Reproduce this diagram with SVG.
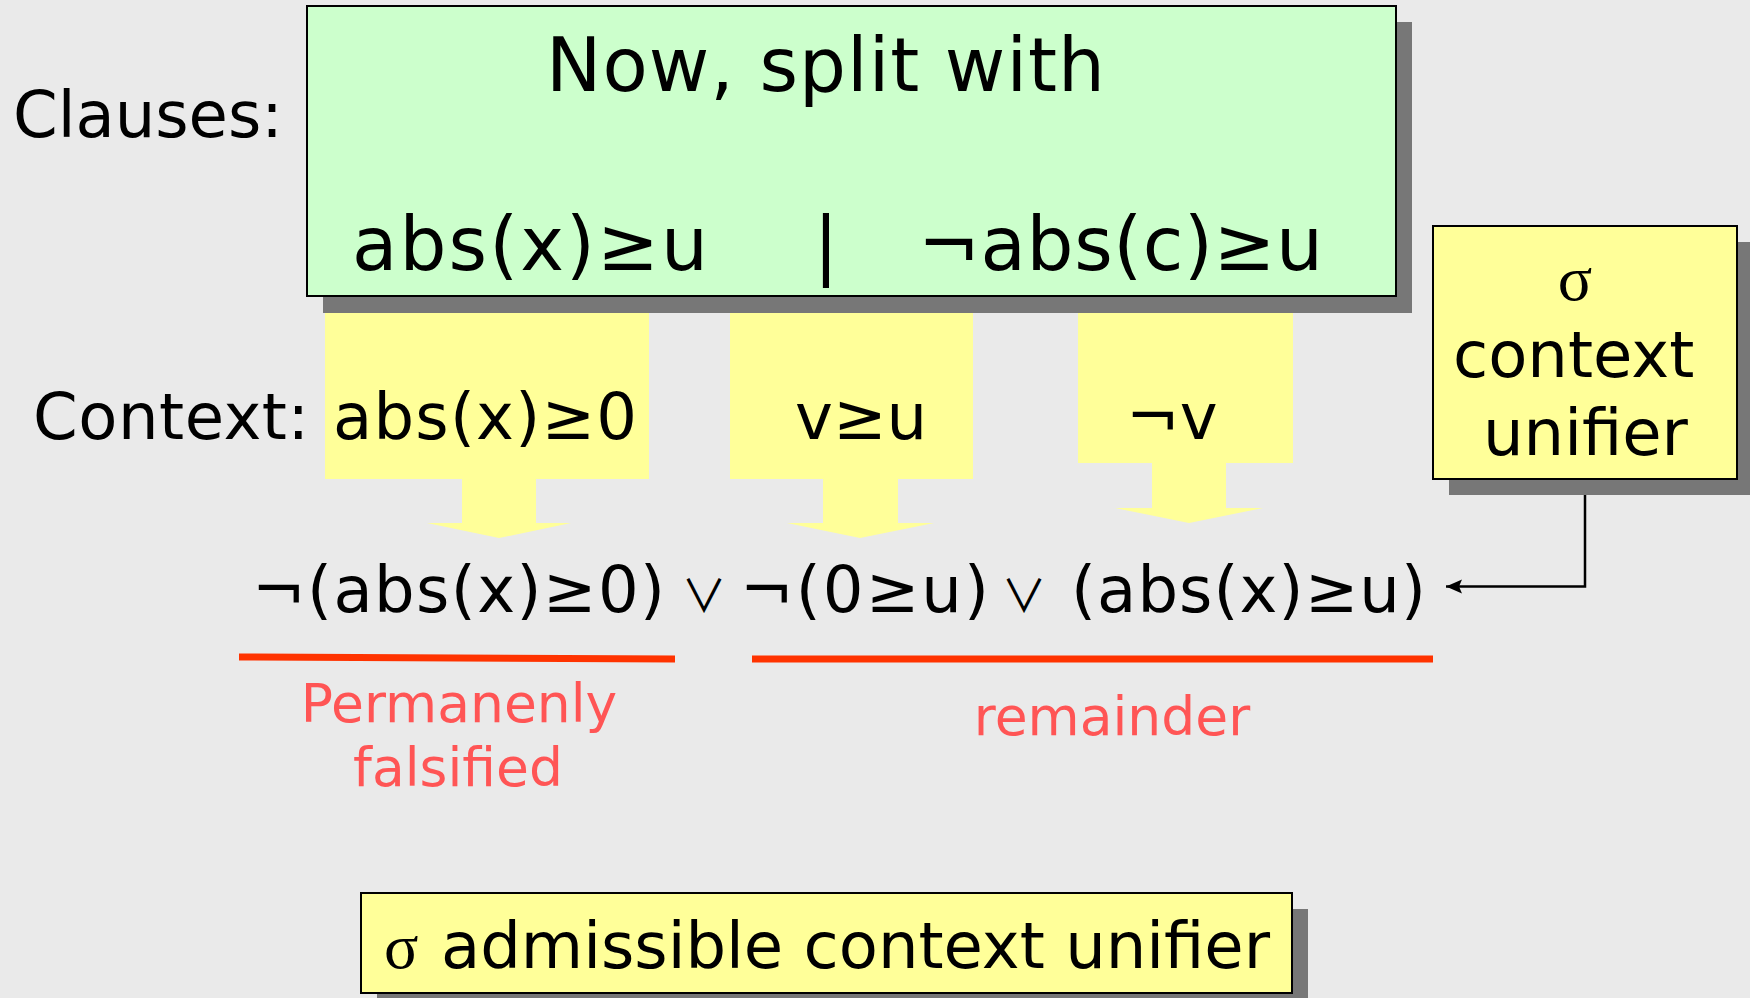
<svg xmlns="http://www.w3.org/2000/svg" width="1750" height="998" viewBox="0 0 1750 998">
  <defs>
    <style>
      .bg { fill: #eaeaea; }
      .shadow { fill: #777777; }
      .green { fill: #ccffcc; stroke: #000; stroke-width: 2; }
      .note { fill: #ffff99; stroke: #000; stroke-width: 2; }
      .ctx { fill: #ffff99; }
      .t { font-family: "DejaVu Sans", Verdana, sans-serif; fill: #000; }
      .big { font-size: 74px; }
      .mid { font-size: 64px; }
      .red { font-family: "DejaVu Sans", Verdana, sans-serif; font-size: 53.5px; fill: #ff5555; }
      .sig { font-family: "Liberation Serif", "DejaVu Serif", serif; }
      .or { font-family: "Noto Sans CJK JP", "DejaVu Sans", sans-serif; font-size: 45px; }
      .under { stroke: #ff3300; stroke-width: 7; fill: none; }
      .wire { stroke: #000; stroke-width: 2.5; fill: none; }
    </style>
    <marker id="arrowhead" markerUnits="userSpaceOnUse" markerWidth="18" markerHeight="16" refX="16" refY="8" orient="auto">
      <path d="M0,1 L16,8 L0,15 L3,8 z" fill="#000"/>
    </marker>
  </defs>

  <rect class="bg" x="0" y="0" width="1750" height="998"/>

  <!-- row labels -->
  <g id="label-clauses">
    <text class="t mid" x="13" y="137">Clauses:</text>
  </g>
  <g id="label-context">
    <text class="t mid" x="33" y="439" textLength="276" lengthAdjust="spacing">Context:</text>
  </g>

  <!-- context literals with their block arrows -->
  <g id="ctx-absx0">
    <rect class="ctx" x="325" y="313" width="324" height="166"/>
    <polygon class="ctx" points="462,479 536,479 536,523 571,523 499,538 427,523 462,523"/>
    <text class="t mid" x="333" y="439" textLength="304" lengthAdjust="spacing">abs(x)≥0</text>
  </g>
  <g id="ctx-vgeu">
    <rect class="ctx" x="730" y="313" width="243" height="166"/>
    <polygon class="ctx" points="823,479 898,479 898,523 934,523 860,538 787,523 823,523"/>
    <text class="t mid" x="795" y="439">v≥u</text>
  </g>
  <g id="ctx-notv">
    <rect class="ctx" x="1078" y="313" width="215" height="150"/>
    <polygon class="ctx" points="1152,463 1226,463 1226,508 1263,508 1189,523 1115,508 1152,508"/>
    <text class="t mid" x="1126" y="439">¬v</text>
  </g>

  <!-- split clause box -->
  <g id="split-box">
    <rect class="shadow" x="323" y="22" width="1089" height="291"/>
    <rect class="green" x="307" y="6" width="1089" height="290"/>
    <text class="t big" x="546" y="91" textLength="559" lengthAdjust="spacing">Now, split with</text>
    <text class="t big" x="352" y="270" textLength="356" lengthAdjust="spacing">abs(x)≥u</text>
    <text class="t big" x="826" y="270" text-anchor="middle">|</text>
    <text class="t big" x="918" y="270" textLength="405" lengthAdjust="spacing">¬abs(c)≥u</text>
  </g>

  <!-- unifier note -->
  <g id="unifier-box">
    <rect class="shadow" x="1449" y="242" width="304" height="253"/>
    <rect class="note" x="1433" y="226" width="304" height="253"/>
    <text class="sig mid" x="1575" y="300" text-anchor="middle">σ</text>
    <text class="t mid" x="1453" y="377">context</text>
    <text class="t mid" x="1483" y="455">unifier</text>
  </g>

  <!-- instantiated clause -->
  <g id="instance">
    <text class="t mid" x="252" y="612" textLength="413" lengthAdjust="spacing">¬(abs(x)≥0)</text>
    <text class="or" x="704" y="613" text-anchor="middle">∨</text>
    <text class="t mid" x="740" y="612" textLength="249" lengthAdjust="spacing">¬(0≥u)</text>
    <text class="or" x="1024" y="613" text-anchor="middle">∨</text>
    <text class="t mid" x="1071" y="612" textLength="355" lengthAdjust="spacing">(abs(x)≥u)</text>
  </g>

  <g id="part-falsified">
    <path class="under" d="M239,657 L675,659"/>
    <text class="red" x="459" y="722" text-anchor="middle">Permanenly</text>
    <text class="red" x="458" y="786" text-anchor="middle">falsified</text>
  </g>
  <g id="part-remainder">
    <path class="under" d="M752,659 L1433,659"/>
    <text class="red" x="1112" y="735" text-anchor="middle">remainder</text>
  </g>

  <!-- admissibility note -->
  <g id="admissible-box">
    <rect class="shadow" x="377" y="909" width="931" height="100"/>
    <rect class="note" x="361" y="893" width="931" height="100"/>
    <text class="sig mid" x="384" y="968">σ</text>
    <text class="t mid" x="441" y="968">admissible context unifier</text>
  </g>

  <!-- connectors -->
  <g id="connectors">
    <path class="wire" d="M1585,495 V586.5 H1446" marker-end="url(#arrowhead)"/>
  </g>
</svg>
